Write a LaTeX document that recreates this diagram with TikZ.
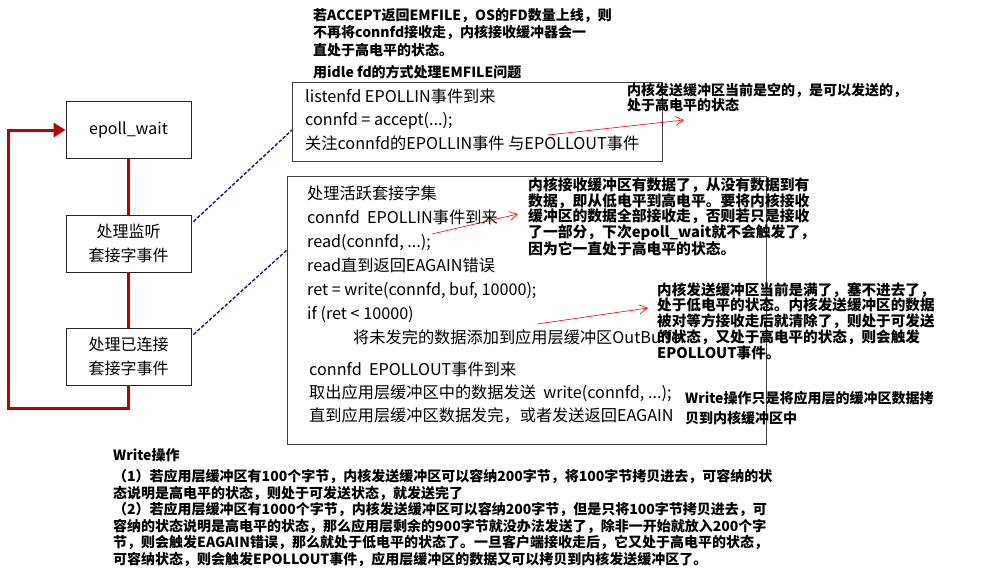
\documentclass[tikz,border=0pt]{standalone}
\usepackage{fontspec}
\setmainfont{Noto Sans CJK SC}
\usetikzlibrary{arrows.meta}
\usetikzlibrary{calc}

\definecolor{loopred}{RGB}{192,0,0}
\definecolor{linkblue}{RGB}{20,20,140}

\tikzset{
    flowbox/.style={rectangle, draw=black!85, line width=0.9pt,
        minimum width=125pt, minimum height=57pt, align=center,
        font=\fontsize{16}{24}\selectfont},
    codebox/.style={rectangle, draw=black!75, line width=1.3pt},
    codetext/.style={anchor=west, inner sep=0pt, align=left,
        font=\fontsize{16.2}{23.5}\selectfont},
    notetext/.style={anchor=west, inner sep=0pt, align=left,
        font=\bfseries\fontsize{14}{15.5}\selectfont},
    loopline/.style={draw=loopred, line width=3pt},
    linkdash/.style={draw=linkblue, line width=1.4pt, dash pattern=on 3.5pt off 1.8pt},
    notearrow/.style={draw=red, line width=0.6pt, -{Straight Barb[length=8pt,width=9pt]}}
}

\begin{document}
\begin{tikzpicture}[x=1pt,y=-1pt]
    \useasboundingbox (0,0) rectangle (986,576);

        % loop of epoll
        \node[flowbox] (wait) at (128.5,130) {epoll\_wait};
        \node[flowbox] (listen) at (128.5,243.5) {处理监听\\套接字事件};
        \node[flowbox] (conn) at (128.5,356.5) {处理已连接\\套接字事件};

        \coordinate (loopc) at (8,408);
        \draw[loopline] (wait) -- (listen);
        \draw[loopline] (listen) -- (conn);
        \draw[loopline,-{Triangle[length=12pt,width=14pt]}] (conn.south) |- (loopc) |- (wait.west);

        % code boxes
        \node[codebox, minimum width=370pt, minimum height=79pt, anchor=north west] (acceptbox) at (292,82) {};
        \node[codebox, minimum width=479pt, minimum height=268pt, anchor=north west] (activebox) at (287,176) {};

        \draw[linkdash] ($(listen.north east)+(2,7)$) -- ($(acceptbox.north west)+(0,48)$);
        \draw[linkdash] ($(conn.north east)+(2,7)$) -- ($(activebox.north west)+(0,74)$);

        \node[codetext] (acctext) at (305,119.5) {listenfd EPOLLIN事件到来\\connfd = accept(...);\\关注connfd的EPOLLIN事件 与EPOLLOUT事件};

        \node[codetext, font=\fontsize{16.2}{24}\selectfont] (readtext) at (307,265) {处理活跃套接字集\\
            connfd\ \ EPOLLIN事件到来\\
            read(connfd, ...);\\
            read直到返回EAGAIN错误\\
            ret = write(connfd, buf, 10000);\\
            if (ret < 10000)\\
            \hspace*{46pt}将未发完的数据添加到应用层缓冲区OutBuffer};

        \node[codetext, font=\fontsize{16.2}{23}\selectfont] (writetext) at (309,393) {connfd\ \ EPOLLOUT事件到来\\
            取出应用层缓冲区中的数据发送\ \ write(connfd, ...);\\
            直到应用层缓冲区数据发完，或者发送返回EAGAIN};

        % notes
        \node[notetext, font=\bfseries\fontsize{14}{17.5}\selectfont] (topnote) at (313,43.5) {若ACCEPT返回EMFILE，OS的FD数量上线，则\\
            不再将connfd接收走，内核接收缓冲器会一\\
            直处于高电平的状态。\\[5pt]
            用idle fd的方式处理EMFILE问题};

        \node[notetext] (noteA) at (627,97.5) {内核发送缓冲区当前是空的，是可以发送的，\\处于高电平的状态};

        \node[notetext, font=\bfseries\fontsize{14.8}{15.5}\selectfont] (noteB1) at (528,217) {内核接收缓冲区有数据了，从没有数据到有\\
            数据，即从低电平到高电平。要将内核接收\\
            缓冲区的数据全部接收走，否则若只是接收\\
            了一部分，下次epoll\_wait就不会触发了，\\
            因为它一直处于高电平的状态。};

        \node[notetext, font=\bfseries\fontsize{14.6}{15.8}\selectfont] (noteB2) at (657,321) {内核发送缓冲区当前是满了，塞不进去了，\\
            处于低电平的状态。内核发送缓冲区的数据\\
            被对等方接收走后就清除了，则处于可发送\\
            的状态，又处于高电平的状态，则会触发\\
            EPOLLOUT事件。};

        \node[notetext, font=\bfseries\fontsize{14}{20}\selectfont] (noteC) at (685,408) {Write操作只是将应用层的缓冲区数据拷\\贝到内核缓冲区中};

        \node[notetext, font=\bfseries\fontsize{14}{16.5}\selectfont] (bottomnote) at (113,507.5) {Write操作\\[4.6pt]
            （1）若应用层缓冲区有100个字节，内核发送缓冲区可以容纳200字节，将100字节拷贝进去，可容纳的状\\
            态说明是高电平的状态，则处于可发送状态，就发送完了\\
            （2）若应用层缓冲区有1000个字节，内核发送缓冲区可以容纳200字节，但是只将100字节拷贝进去，可\\
            容纳的状态说明是高电平的状态，那么应用层剩余的900字节就没办法发送了，除非一开始就放入200个字\\
            节，则会触发EAGAIN错误，那么就处于低电平的状态了。一旦客户端接收走后，它又处于高电平的状态，\\
            可容纳状态，则会触发EPOLLOUT事件，应用层缓冲区的数据又可以拷贝到内核发送缓冲区了。};

        % red pointers
        \coordinate (a1s) at (548,135);
        \coordinate (a1e) at (684,120);
        \coordinate (a2s) at (432,234);
        \coordinate (a2e) at (518,214);
        \coordinate (a3s) at (537,324);
        \coordinate (a3e) at (648,308);
        \draw[notearrow] (a1s) -- (a1e);
        \draw[notearrow] (a2s) -- (a2e);
        \draw[notearrow] (a3s) -- (a3e);

    \end{tikzpicture}
\end{document}
